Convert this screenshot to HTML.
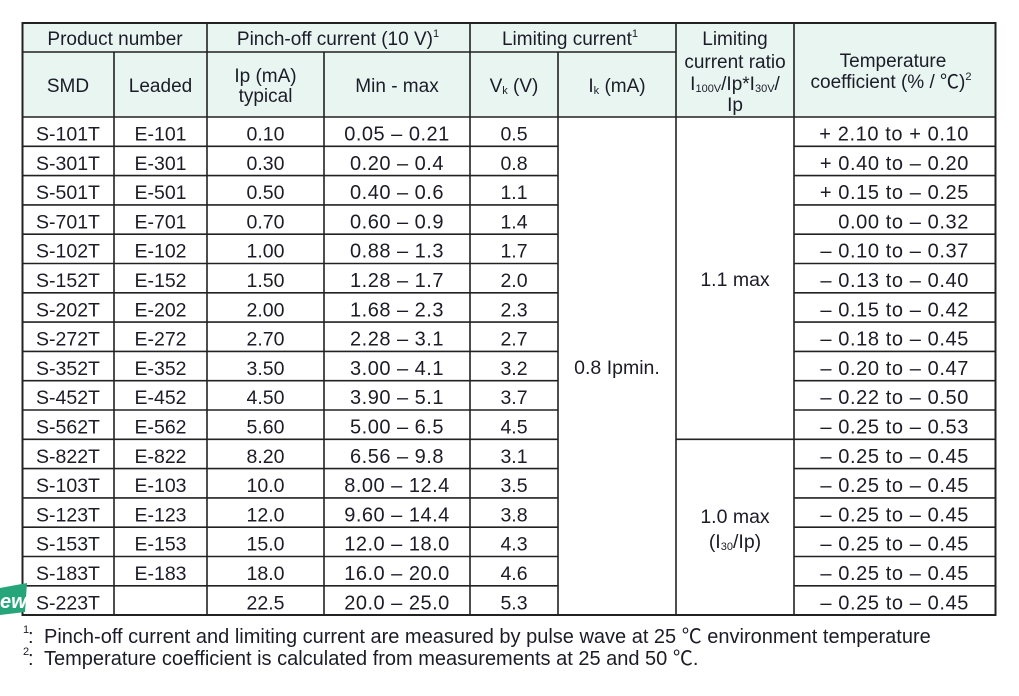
<!DOCTYPE html>
<html><head><meta charset="utf-8"><style>
html,body{margin:0;padding:0;background:#fff;}
svg{display:block;}
text{font-family:"Liberation Sans","Noto Sans CJK JP",sans-serif;fill:#1c1c28;}
</style></head><body>
<svg width="1019" height="696" viewBox="0 0 1019 696" xmlns="http://www.w3.org/2000/svg">
<rect x="0" y="0" width="1019" height="696" fill="#fff"/>
<rect x="22.5" y="23" width="973" height="94" fill="#e8f5f1"/>
<g stroke="#222" stroke-width="1.6" fill="none">
<line x1="22.5" y1="52" x2="676" y2="52"/>
<line x1="22.5" y1="117" x2="995.5" y2="117"/>
<line x1="22.5" y1="146.3" x2="558" y2="146.3"/><line x1="794" y1="146.3" x2="995.5" y2="146.3"/>
<line x1="22.5" y1="175.6" x2="558" y2="175.6"/><line x1="794" y1="175.6" x2="995.5" y2="175.6"/>
<line x1="22.5" y1="204.9" x2="558" y2="204.9"/><line x1="794" y1="204.9" x2="995.5" y2="204.9"/>
<line x1="22.5" y1="234.2" x2="558" y2="234.2"/><line x1="794" y1="234.2" x2="995.5" y2="234.2"/>
<line x1="22.5" y1="263.5" x2="558" y2="263.5"/><line x1="794" y1="263.5" x2="995.5" y2="263.5"/>
<line x1="22.5" y1="292.8" x2="558" y2="292.8"/><line x1="794" y1="292.8" x2="995.5" y2="292.8"/>
<line x1="22.5" y1="322.1" x2="558" y2="322.1"/><line x1="794" y1="322.1" x2="995.5" y2="322.1"/>
<line x1="22.5" y1="351.4" x2="558" y2="351.4"/><line x1="794" y1="351.4" x2="995.5" y2="351.4"/>
<line x1="22.5" y1="380.7" x2="558" y2="380.7"/><line x1="794" y1="380.7" x2="995.5" y2="380.7"/>
<line x1="22.5" y1="410.0" x2="558" y2="410.0"/><line x1="794" y1="410.0" x2="995.5" y2="410.0"/>
<line x1="22.5" y1="439.3" x2="558" y2="439.3"/><line x1="676" y1="439.3" x2="995.5" y2="439.3"/>
<line x1="22.5" y1="468.6" x2="558" y2="468.6"/><line x1="794" y1="468.6" x2="995.5" y2="468.6"/>
<line x1="22.5" y1="497.9" x2="558" y2="497.9"/><line x1="794" y1="497.9" x2="995.5" y2="497.9"/>
<line x1="22.5" y1="527.2" x2="558" y2="527.2"/><line x1="794" y1="527.2" x2="995.5" y2="527.2"/>
<line x1="22.5" y1="556.5" x2="558" y2="556.5"/><line x1="794" y1="556.5" x2="995.5" y2="556.5"/>
<line x1="22.5" y1="585.8" x2="558" y2="585.8"/><line x1="794" y1="585.8" x2="995.5" y2="585.8"/>
<line x1="114" y1="52" x2="114" y2="615"/>
<line x1="207" y1="23" x2="207" y2="615"/>
<line x1="324" y1="52" x2="324" y2="615"/>
<line x1="470" y1="23" x2="470" y2="615"/>
<line x1="558" y1="52" x2="558" y2="615"/>
<line x1="676" y1="23" x2="676" y2="615"/>
<line x1="794" y1="23" x2="794" y2="615"/>
</g>
<rect x="22.5" y="23" width="973" height="592" fill="none" stroke="#222" stroke-width="2"/>

<g font-size="19" text-anchor="middle">
<text x="115" y="45">Product number</text>
<text x="338" y="45">Pinch-off current (10 V)<tspan font-size="11" dy="-8">1</tspan></text>
<text x="570" y="45">Limiting current<tspan font-size="11" dy="-8">1</tspan></text>
<text x="68" y="92">SMD</text>
<text x="160.5" y="92">Leaded</text>
<text x="265.5" y="82">Ip (mA)</text>
<text x="265.5" y="102">typical</text>
<text x="397" y="92">Min - max</text>
<text x="514" y="92">V<tspan font-size="11" dy="2">k</tspan><tspan dy="-2"> (V)</tspan></text>
<text x="617" y="92">I<tspan font-size="11" dy="2">k</tspan><tspan dy="-2"> (mA)</tspan></text>
<text x="735" y="45">Limiting</text>
<text x="735" y="68">current ratio</text>
<text x="735" y="90">I<tspan font-size="11" dy="2">100V</tspan><tspan dy="-2">/Ip*I</tspan><tspan font-size="11" dy="2">30V</tspan><tspan dy="-2">/</tspan></text>
<text x="735" y="111">Ip</text>
<text x="893" y="67">Temperature</text>
<text x="891" y="88">coefficient (% / ℃)<tspan font-size="11" dy="-8">2</tspan></text>
</g>

<g font-size="19.5" text-anchor="middle">
<g transform="translate(0,140.5)">
<text x="68" y="0">S-101T</text><text x="160.5" y="0">E-101</text><text x="265.5" y="0">0.10</text><text x="514" y="0">0.5</text>
<text x="68" y="29.3">S-301T</text><text x="160.5" y="29.3">E-301</text><text x="265.5" y="29.3">0.30</text><text x="514" y="29.3">0.8</text>
<text x="68" y="58.6">S-501T</text><text x="160.5" y="58.6">E-501</text><text x="265.5" y="58.6">0.50</text><text x="514" y="58.6">1.1</text>
<text x="68" y="87.9">S-701T</text><text x="160.5" y="87.9">E-701</text><text x="265.5" y="87.9">0.70</text><text x="514" y="87.9">1.4</text>
<text x="68" y="117.2">S-102T</text><text x="160.5" y="117.2">E-102</text><text x="265.5" y="117.2">1.00</text><text x="514" y="117.2">1.7</text>
<text x="68" y="146.5">S-152T</text><text x="160.5" y="146.5">E-152</text><text x="265.5" y="146.5">1.50</text><text x="514" y="146.5">2.0</text>
<text x="68" y="175.8">S-202T</text><text x="160.5" y="175.8">E-202</text><text x="265.5" y="175.8">2.00</text><text x="514" y="175.8">2.3</text>
<text x="68" y="205.1">S-272T</text><text x="160.5" y="205.1">E-272</text><text x="265.5" y="205.1">2.70</text><text x="514" y="205.1">2.7</text>
<text x="68" y="234.4">S-352T</text><text x="160.5" y="234.4">E-352</text><text x="265.5" y="234.4">3.50</text><text x="514" y="234.4">3.2</text>
<text x="68" y="263.7">S-452T</text><text x="160.5" y="263.7">E-452</text><text x="265.5" y="263.7">4.50</text><text x="514" y="263.7">3.7</text>
<text x="68" y="293.0">S-562T</text><text x="160.5" y="293.0">E-562</text><text x="265.5" y="293.0">5.60</text><text x="514" y="293.0">4.5</text>
<text x="68" y="322.3">S-822T</text><text x="160.5" y="322.3">E-822</text><text x="265.5" y="322.3">8.20</text><text x="514" y="322.3">3.1</text>
<text x="68" y="351.6">S-103T</text><text x="160.5" y="351.6">E-103</text><text x="265.5" y="351.6">10.0</text><text x="514" y="351.6">3.5</text>
<text x="68" y="380.9">S-123T</text><text x="160.5" y="380.9">E-123</text><text x="265.5" y="380.9">12.0</text><text x="514" y="380.9">3.8</text>
<text x="68" y="410.2">S-153T</text><text x="160.5" y="410.2">E-153</text><text x="265.5" y="410.2">15.0</text><text x="514" y="410.2">4.3</text>
<text x="68" y="439.5">S-183T</text><text x="160.5" y="439.5">E-183</text><text x="265.5" y="439.5">18.0</text><text x="514" y="439.5">4.6</text>
<text x="68" y="468.8">S-223T</text><text x="265.5" y="468.8">22.5</text><text x="514" y="468.8">5.3</text>
<g font-size="20" letter-spacing="0.5">
<text x="397" y="0">0.05 – 0.21</text>
<text x="397" y="29.3">0.20 – 0.4</text>
<text x="397" y="58.6">0.40 – 0.6</text>
<text x="397" y="87.9">0.60 – 0.9</text>
<text x="397" y="117.2">0.88 – 1.3</text>
<text x="397" y="146.5">1.28 – 1.7</text>
<text x="397" y="175.8">1.68 – 2.3</text>
<text x="397" y="205.1">2.28 – 3.1</text>
<text x="397" y="234.4">3.00 – 4.1</text>
<text x="397" y="263.7">3.90 – 5.1</text>
<text x="397" y="293.0">5.00 – 6.5</text>
<text x="397" y="322.3">6.56 – 9.8</text>
<text x="397" y="351.6">8.00 – 12.4</text>
<text x="397" y="380.9">9.60 – 14.4</text>
<text x="397" y="410.2">12.0 – 18.0</text>
<text x="397" y="439.5">16.0 – 20.0</text>
<text x="397" y="468.8">20.0 – 25.0</text>
</g>
<g text-anchor="end" font-size="20" letter-spacing="0.6">
<text x="969" y="0">+ 2.10 to + 0.10</text>
<text x="969" y="29.3">+ 0.40 to – 0.20</text>
<text x="969" y="58.6">+ 0.15 to – 0.25</text>
<text x="969" y="87.9">0.00 to – 0.32</text>
<text x="969" y="117.2">– 0.10 to – 0.37</text>
<text x="969" y="146.5">– 0.13 to – 0.40</text>
<text x="969" y="175.8">– 0.15 to – 0.42</text>
<text x="969" y="205.1">– 0.18 to – 0.45</text>
<text x="969" y="234.4">– 0.20 to – 0.47</text>
<text x="969" y="263.7">– 0.22 to – 0.50</text>
<text x="969" y="293.0">– 0.25 to – 0.53</text>
<text x="969" y="322.3">– 0.25 to – 0.45</text>
<text x="969" y="351.6">– 0.25 to – 0.45</text>
<text x="969" y="380.9">– 0.25 to – 0.45</text>
<text x="969" y="410.2">– 0.25 to – 0.45</text>
<text x="969" y="439.5">– 0.25 to – 0.45</text>
<text x="969" y="468.8">– 0.25 to – 0.45</text>
</g>
</g>
<text x="617" y="374">0.8 Ipmin.</text>
<text x="735" y="286">1.1 max</text>
<text x="735" y="523">1.0 max</text>
<text x="735" y="548">(I<tspan font-size="11" dy="2">30</tspan><tspan dy="-2">/Ip)</tspan></text>
</g>

<polygon points="0,588 27,583 25,612 0,615" fill="#27a57a"/>
<text x="0" y="608" font-size="20" font-weight="bold" font-style="italic" style="fill:#fff">ew</text>

<g font-size="20">
<text x="23" y="633" font-size="11">1</text>
<text x="28" y="643">:</text>
<text x="44" y="643">Pinch-off current and limiting current are measured by pulse wave at 25 ℃ environment temperature</text>
<text x="23" y="655" font-size="11">2</text>
<text x="28" y="665">:</text>
<text x="44" y="665">Temperature coefficient is calculated from measurements at 25 and 50 ℃.</text>
</g>
</svg>
</body></html>
